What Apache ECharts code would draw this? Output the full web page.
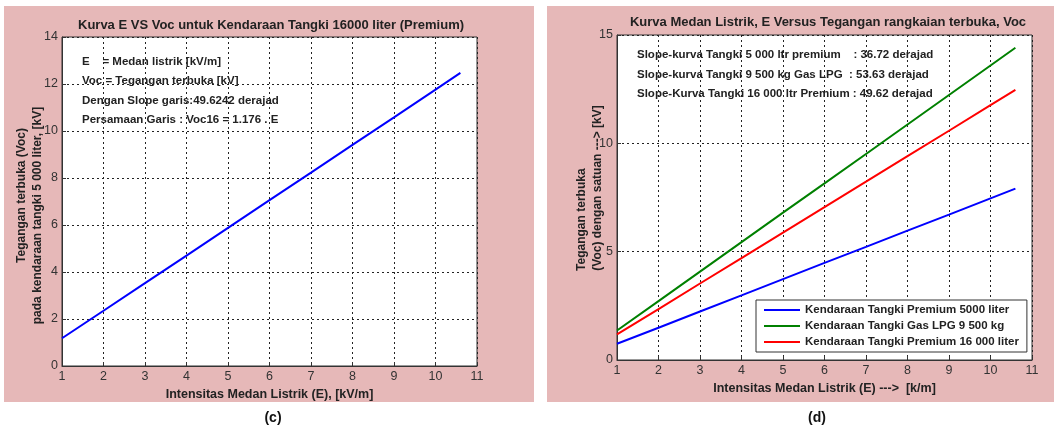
<!DOCTYPE html>
<html><head><meta charset="utf-8">
<script src="https://cdn.jsdelivr.net/npm/echarts@6/dist/echarts.min.js"></script>
<style>html,body{margin:0;padding:0;background:#fff}#c{width:1054px;height:427px}</style>
</head><body><div id="c"></div>
<script>
// Data
const eValues = [1, 2, 3, 4, 5, 6, 7, 8, 9, 10, 10.6];
const vocPremium16000 = [1.18, 2.35, 3.53, 4.70, 5.88, 7.06, 8.23, 9.41, 10.58, 11.76, 12.47];
const vocPremium5000 = [0.75, 1.49, 2.24, 2.98, 3.73, 4.48, 5.22, 5.97, 6.71, 7.46, 7.91];
const vocLpg9500 = [1.36, 2.72, 4.08, 5.44, 6.80, 8.15, 9.51, 10.87, 12.23, 13.59, 14.41];
const seriesNames = ['Kendaraan Tangki Premium 5000 liter', 'Kendaraan Tangki Gas LPG 9 500 kg', 'Kendaraan Tangki Premium 16 000 liter'];
const leftTitle = 'Kurva E VS Voc untuk Kendaraan Tangki 16000 liter (Premium)';
const rightTitle = 'Kurva Medan Listrik, E Versus Tegangan rangkaian terbuka, Voc';
const leftYName = ['Tegangan terbuka (Voc)', 'pada kendaraan tangki 5 000 liter, [kV]'];
const rightYName = ['Tegangan terbuka', '(Voc) dengan satuan ---> [kV]'];
const leftNotes = ['E    = Medan listrik [kV/m]', 'Voc = Tegangan terbuka [kV]', 'Dengan Slope garis:49.6242 derajad', 'Persamaan Garis : Voc16 = 1.176 . E'];
const rightNotes = ['Slope-kurva Tangki 5 000 ltr premium    : 36.72 derajad', 'Slope-kurva Tangki 9 500 kg Gas LPG  : 53.63 derajad', 'Slope-Kurva Tangki 16 000 ltr Premium : 49.62 derajad'];

const pair = a => eValues.map((e, i) => [e, a[i]]);
const FONT = '"Liberation Sans", Arial, sans-serif';
const PINK = '#e6b8b8';

function xAx(gi, name) {
  return {
    gridIndex: gi, type: 'value', min: 1, max: 11, interval: 1,
    name: name, nameLocation: 'middle', nameGap: 22,
    nameTextStyle: {fontFamily: FONT, fontWeight: 'bold', fontSize: 12.5, color: '#222'},
    axisLine: {show: true, lineStyle: {color: '#333'}},
    axisTick: {inside: true, length: 4, lineStyle: {color: '#333'}},
    axisLabel: {fontFamily: FONT, fontSize: 12.5, color: '#333', margin: 4},
    splitLine: {show: true, lineStyle: {color: '#222', type: [2, 3], width: 1}}
  };
}
function yAx(gi, max, interval, name, gap, pad) {
  return {
    gridIndex: gi, type: 'value', min: 0, max: max, interval: interval,
    name: name, nameLocation: 'middle', nameGap: gap, nameRotate: 90, nameMoveOverlap: false,
    nameTextStyle: {fontFamily: FONT, fontWeight: 'bold', fontSize: 12, color: '#222', lineHeight: 16, padding: pad},
    axisLine: {show: true, lineStyle: {color: '#333'}},
    axisTick: {inside: true, length: 4, lineStyle: {color: '#333'}},
    axisLabel: {fontFamily: FONT, fontSize: 12.5, color: '#333', margin: 4},
    splitLine: {show: true, lineStyle: {color: '#222', type: [2, 3], width: 1}}
  };
}
function noteTexts(lines, x, ys) {
  return lines.map((t, i) => ({
    type: 'text', left: x, top: ys[i], z: 100,
    style: {text: t, font: 'bold 11.5px ' + FONT, fill: '#222'}
  }));
}
const sp = n => ' '.repeat(n);

const chart = echarts.init(document.getElementById('c'), null, {renderer: 'canvas'});
chart.setOption({
  animation: false,
  backgroundColor: '#fff',
  title: [
    {text: leftTitle, left: 266, top: 14, textAlign: 'center', textStyle: {fontFamily: FONT, fontWeight: 'bold', fontSize: 13, color: '#222'}},
    {text: rightTitle, left: 823, top: 11, textAlign: 'center', textStyle: {fontFamily: FONT, fontWeight: 'bold', fontSize: 13, color: '#222'}},
    {text: '(c)', left: 268, top: 406, textAlign: 'center', textStyle: {fontFamily: FONT, fontWeight: 'bold', fontSize: 14, color: '#111'}},
    {text: '(d)', left: 812, top: 406, textAlign: 'center', textStyle: {fontFamily: FONT, fontWeight: 'bold', fontSize: 14, color: '#111'}}
  ],
  graphic: [
    {type: 'rect', shape: {x: 4, y: 6, width: 530, height: 396}, style: {fill: PINK}, z: -10},
    {type: 'rect', shape: {x: 547, y: 6, width: 507, height: 396}, style: {fill: PINK}, z: -10}
  ].concat(noteTexts(leftNotes, 82, [56, 75, 95, 114]))
   .concat(noteTexts(rightNotes, 637, [49, 69, 88])),
  grid: [
    {left: 62, top: 37, width: 415, height: 329, show: true, backgroundColor: '#fff', borderColor: '#333', borderWidth: 1},
    {left: 617, top: 35, width: 415, height: 325, show: true, backgroundColor: '#fff', borderColor: '#333', borderWidth: 1}
  ],
  xAxis: [xAx(0, 'Intensitas Medan Listrik (E), [kV/m]'), xAx(1, 'Intensitas Medan Listrik (E) --->  [k/m]')],
  yAxis: [
    yAx(0, 14, 2, sp(12) + leftYName[0] + '\n' + leftYName[1], 16, [0, 28, 0, 0]),
    yAx(1, 15, 5, rightYName[0] + sp(19) + '\n' + rightYName[1], 11, [0, 0, 0, 19])
  ],
  legend: {
    show: true, orient: 'vertical', left: 756, top: 300, itemGap: 4,
    itemWidth: 36, itemHeight: 2, icon: 'rect',
    backgroundColor: '#fff', borderColor: '#333', borderWidth: 1,
    padding: [4, 8, 4, 8],
    textStyle: {fontFamily: FONT, fontWeight: 'bold', fontSize: 11.5, color: '#222'},
    data: seriesNames
  },
  series: [
    {type: 'line', name: 'Voc16', xAxisIndex: 0, yAxisIndex: 0, data: pair(vocPremium16000), showSymbol: false, lineStyle: {color: '#0000ff', width: 2}, itemStyle: {color: '#0000ff'}},
    {type: 'line', name: seriesNames[0], xAxisIndex: 1, yAxisIndex: 1, data: pair(vocPremium5000), showSymbol: false, lineStyle: {color: '#0000ff', width: 2}, itemStyle: {color: '#0000ff'}},
    {type: 'line', name: seriesNames[1], xAxisIndex: 1, yAxisIndex: 1, data: pair(vocLpg9500), showSymbol: false, lineStyle: {color: '#008000', width: 2}, itemStyle: {color: '#008000'}},
    {type: 'line', name: seriesNames[2], xAxisIndex: 1, yAxisIndex: 1, data: pair(vocPremium16000), showSymbol: false, lineStyle: {color: '#ff0000', width: 2}, itemStyle: {color: '#ff0000'}}
  ]
});
</script></body></html>
